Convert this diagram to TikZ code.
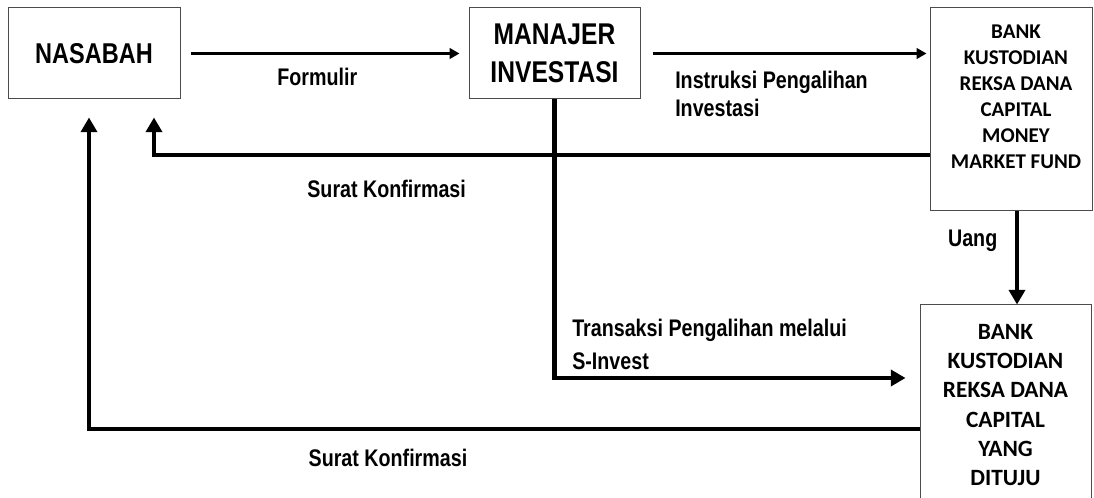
\documentclass[tikz,border=0pt]{standalone}
\usepackage{fontspec}
\setmainfont{Liberation Sans}
\newfontfamily\narrowfont[FakeStretch=0.82]{Liberation Sans}
\newfontfamily\bankfont{Carlito}
\usetikzlibrary{calc, arrows.meta, positioning}

\tikzset{
    box/.style = {draw = black!70, line width = 0.75pt, inner sep = 0pt, align = center},
    thinarrow/.style = {line width = 1.8pt, -{Triangle[width = 8pt, length = 7.5pt]}},
    thickarrow/.style = {line width = 3.6pt, -{Triangle[width = 12pt, length = 11pt]}},
    lbl/.style = {font = {\narrowfont\bfseries\fontsize{18pt}{20.6pt}\selectfont}, inner sep = 0pt, align = left},
}

\begin{document}
\begin{tikzpicture}[x = 0.75pt, y = -0.75pt]
\useasboundingbox (0, 0) rectangle (1094, 498);

\node[box, minimum width = 129pt, minimum height = 68.25pt,
      font = {\narrowfont\bfseries\fontsize{21.5pt}{26pt}\selectfont}]
    (nasabah) at (94, 53.5) {NASABAH};
\node[box, minimum width = 128.25pt, minimum height = 68.25pt,
      font = {\narrowfont\bfseries\fontsize{22.5pt}{28.5pt}\selectfont}]
    (manajer) at (554.5, 53.5) {MANAJER\\INVESTASI};
\node[box, minimum width = 121.5pt, minimum height = 152.25pt] (bankmmf) at (1011, 109.5) {};
\node[inner sep = 0pt, align = center, font = {\bankfont\bfseries\fontsize{15.75pt}{19.5pt}\selectfont}]
    (bankmmftext) at (1016, 97) {BANK\\KUSTODIAN\\REKSA DANA\\CAPITAL\\MONEY\\MARKET FUND};
\node[box, minimum width = 128.25pt, minimum height = 150pt,
      font = {\bankfont\bfseries\fontsize{17.5pt}{22pt}\selectfont}]
    (banktuju) at (1005.5, 405) {BANK\\KUSTODIAN\\REKSA DANA\\CAPITAL\\YANG\\DITUJU};

\draw[thinarrow, shorten <= 7.5pt, shorten >= 6.75pt] (nasabah) --
    node[lbl, pos = 0.475, below = 10pt] (formulir) {Formulir} (manajer);
\draw[thinarrow, shorten <= 9pt, shorten >= 2.25pt] (manajer.east) -- (manajer.east -| bankmmf.west);
\node[lbl, anchor = north west] (instruksi) at (675, 71) {Instruksi Pengalihan\\Investasi};

\draw[thickarrow] ($(bankmmf.west) + (0, 45.5)$) -| ($(nasabah.south) + (60, 18)$)
    node[lbl, pos = 0.35, below = 17pt] (surat1) {Surat Konfirmasi};
\draw[thickarrow] ($(banktuju.west) + (0, 24)$) -| ($(nasabah.south) + (-5, 18)$)
    node[lbl, pos = 0.32, below = 13pt] (surat2) {Surat Konfirmasi};

\draw[thickarrow] (manajer.south) |- ($(banktuju.west) + (-14, -27)$);
\node[lbl, anchor = north west] (transaksi) at (572, 319) {Transaksi Pengalihan melalui\\[4pt]S-Invest};

\draw[thickarrow] ([xshift = 4.5pt]bankmmf.south) -- ([xshift = 4.5pt]bankmmf.south |- banktuju.north)
    node[lbl, pos = 0.32, left = 13pt] (uang) {Uang};

\end{tikzpicture}
\end{document}
